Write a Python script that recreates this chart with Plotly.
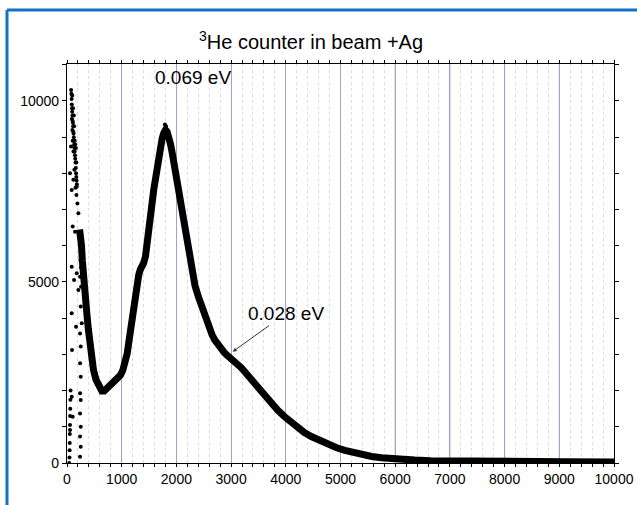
import plotly.graph_objects as go

# ---- data ----
main_x = [230, 250, 265, 280, 300, 330, 362, 390, 423, 450, 484, 530, 576, 637, 680, 730, 790, 852,
          920, 974, 1020, 1066, 1100, 1127, 1160, 1189, 1220, 1250, 1280, 1311, 1340, 1373, 1400,
          1434, 1465, 1495, 1525, 1556, 1587, 1618, 1648, 1679, 1710, 1740, 1770, 1801, 1830, 1862,
          1893, 1924, 1955, 1985, 2016, 2047, 2078, 2108, 2139, 2169, 2200, 2230, 2260, 2292, 2340,
          2400, 2450, 2500, 2550, 2600, 2650, 2700, 2760, 2813, 2870, 2930, 3000, 3060, 3120, 3180,
          3250, 3300, 3364, 3450, 3548, 3640, 3732, 3850, 3977, 4100, 4222, 4340, 4467, 4620, 4773,
          4930, 5080, 5230, 5386, 5570, 5750, 5938, 6150, 6360, 6650, 6980, 7400, 7900, 8500, 9100,
          10000]
main_y = [6450, 6300, 6000, 5600, 5100, 4600, 4140, 3700, 3210, 2880, 2570, 2300, 2110, 1990, 1990,
          2060, 2140, 2220, 2320, 2420, 2560, 2760, 3020, 3310, 3700, 4040, 4380, 4690, 4950, 5190,
          5340, 5420, 5520, 5700, 6000, 6350, 6780, 7180, 7560, 7910, 8250, 8560, 8800, 8970, 9120,
          9200, 9150, 9010, 8800, 8560, 8280, 8000, 7730, 7460, 7180, 6900, 6620, 6350, 6080, 5800,
          5520, 5250, 4900, 4600, 4370, 4150, 3930, 3730, 3550, 3400, 3260, 3160, 3060, 2970, 2890,
          2810, 2730, 2640, 2520, 2430, 2320, 2140, 1970, 1800, 1650, 1460, 1280, 1110, 960, 840,
          730, 610, 500, 420, 350, 290, 240, 180, 145, 115, 95, 80, 65, 55, 50, 45, 40, 35, 30]

scatter_x = [40, 45, 48, 50, 52, 55, 57, 60, 62, 65,
             75, 80, 85, 88, 92, 95, 100, 102, 108, 112, 115, 120, 124, 128, 132, 136, 140, 145,
             150, 155, 160, 165, 170, 175, 180, 170, 150, 130, 110, 95, 90, 98, 105, 118, 125, 135,
             142, 155, 162, 172,
             104, 147, 86, 129, 178, 208, 86, 165, 92, 239, 257, 251, 270, 239, 251, 239, 251, 239,
             251, 239, 251, 239, 251, 239, 86, 104, 55, 74, 55, 116, 86, 178, 208, 190,
             245, 255, 262, 248, 258,
             1790, 1810]
scatter_y = [0, 150, 350, 550, 800, 1050, 1300, 1500, 1750, 2000,
             10300, 10200, 10050, 9900, 9800, 9700, 9600, 9450, 9400, 9300, 9150, 9100, 9000, 8900,
             8800, 8700, 8600, 8500, 8400, 8300, 8150, 8000, 7900, 7800, 7700, 8300, 8800, 9300, 9800,
             10150, 9500, 9200, 8900, 8600, 9600, 8100, 8900, 7600, 8700, 7400,
             6530, 6390, 5420, 5055, 5240, 4780, 4135, 3765, 3120, 5145, 4870, 4320, 3860, 3580, 3215,
             2755, 2385, 1925, 1740, 1370, 1000, 730, 450, 175, 1830, 1280, 910, 8740, 8000, 7820,
             7540, 7630, 6900, 7170,
             6200, 5900, 6100, 5600, 5400,
             9350, 9300]

x_tick_vals = [0, 1000, 2000, 3000, 4000, 5000, 6000, 7000, 8000, 9000, 10000]
gray_grid_vals = [5000, 6000, 7000, 8000, 9000]
y_tick_vals = [0, 5000, 10000]

title_text = "<sup>3</sup>He counter in beam +Ag"
peak_label = "0.069 eV"
shoulder_label = "0.028 eV"

FONT = "Liberation Sans, Arial, sans-serif"

L, R, T, B = 67, 23, 64, 42
PW = 637 - L - R
PH = 505 - T - B


def px_to_paper_x(px):
    return (px - L) / PW


def py_to_paper_y(py):
    return (505 - B - py) / PH


fig = go.Figure()
fig.add_trace(go.Scatter(x=main_x, y=main_y, mode="lines",
                         line=dict(color="black", width=7), showlegend=False))
fig.add_trace(go.Scatter(x=scatter_x, y=scatter_y, mode="markers",
                         marker=dict(color="black", size=4), showlegend=False,
                         cliponaxis=True))

fig.update_layout(
    width=637, height=505,
    margin=dict(l=L, r=R, t=T, b=B, autoexpand=False),
    paper_bgcolor="white", plot_bgcolor="white",
    font=dict(family=FONT, color="black", size=14),
    showlegend=False,
)

fig.update_xaxes(
    range=[0, 10000], tickvals=x_tick_vals, ticktext=[str(v) for v in x_tick_vals],
    automargin=False,
    showline=True, linecolor="black", linewidth=1.2, mirror="ticks",
    ticks="outside", ticklen=3, tickwidth=1.2, tickcolor="black",
    showgrid=True, gridcolor="#a2a2d2", gridwidth=1, zeroline=False,
    tickfont=dict(size=14, family=FONT),
    minor=dict(dtick=200, tick0=0, ticks="outside", ticklen=3, tickcolor="black",
               showgrid=True, gridcolor="#dddddd", griddash="dot", gridwidth=1),
)
fig.update_yaxes(
    range=[0, 11020], tickvals=y_tick_vals, ticktext=[str(v) for v in y_tick_vals],
    automargin=False,
    showline=True, linecolor="black", linewidth=1.2, mirror="ticks",
    ticks="outside", ticklen=4, tickwidth=1.2, tickcolor="black",
    showgrid=False, zeroline=False,
    tickfont=dict(size=14, family=FONT),
    minor=dict(dtick=1000, tick0=0, ticks="outside", ticklen=4, tickcolor="black", showgrid=False),
)

for gx in gray_grid_vals:
    fig.add_shape(type="line", xref="x", yref="paper", x0=gx, x1=gx, y0=0, y1=1,
                  line=dict(color="#a8a8a8", width=1), layer="below")

fig.add_annotation(text=title_text, xref="paper", yref="paper",
                   x=px_to_paper_x(311), y=py_to_paper_y(40),
                   showarrow=False, font=dict(size=20, family=FONT), xanchor="center",
                   yanchor="middle")
fig.add_annotation(text=peak_label, x=2300, y=10660, showarrow=False,
                   font=dict(size=19, family=FONT), xanchor="center", yanchor="middle")
fig.add_annotation(text=shoulder_label, x=3030, y=3075, ax=53, ay=-38, showarrow=True,
                   arrowhead=2, arrowsize=0.8, arrowwidth=1, arrowcolor="#333",
                   font=dict(size=19, family=FONT), standoff=0)

# blue frame of the figure
blue = "#1570c8"
fig.add_shape(type="line", xref="paper", yref="paper",
              x0=px_to_paper_x(7), x1=px_to_paper_x(7), y0=py_to_paper_y(520), y1=py_to_paper_y(10),
              line=dict(color=blue, width=3))
fig.add_shape(type="line", xref="paper", yref="paper",
              x0=px_to_paper_x(7), x1=px_to_paper_x(650), y0=py_to_paper_y(10), y1=py_to_paper_y(10),
              line=dict(color=blue, width=3))

fig.write_html("out.html")
